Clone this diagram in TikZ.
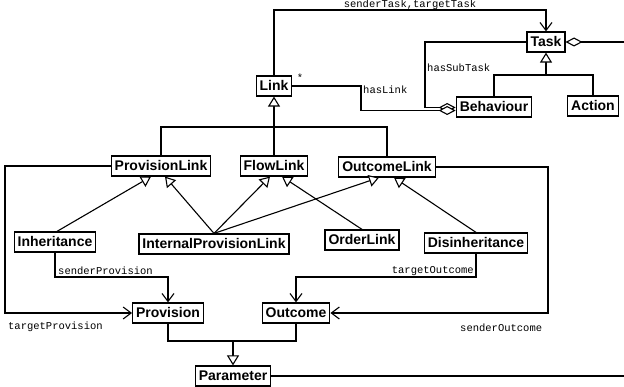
\documentclass[tikz,border=0pt]{standalone}
\usepackage{fontspec}
\usepackage{tikz}
\usetikzlibrary{arrows.meta,calc}
\newfontfamily\clsfont{Liberation Sans}
\newfontfamily\lblfont{Liberation Mono}
\tikzset{
  cls/.style={draw,line width=1.2pt,fill=white,font=\clsfont\bfseries\fontsize{14}{14}\selectfont,
    inner xsep=3.5pt,inner ysep=5pt,text height=10pt,text depth=0pt},
  lbl/.style={inner sep=0pt,font=\lblfont\fontsize{10.5}{10.5}\selectfont},
  con/.style={line width=1.1pt},
  nav/.style={con,-{Straight Barb[length=8pt,width=12pt,line width=1.1pt]}},
  gen/.style={con,-{Triangle[open,length=10pt,width=12pt,fill=white,line width=1.1pt]}},
  agg/.style={con,-{Diamond[open,length=17pt,width=9pt,fill=white,line width=1.1pt]}},
  aggstart/.style={con,{Diamond[open,length=17pt,width=9pt,fill=white,line width=1.1pt]}-}
}
\begin{document}
\begin{tikzpicture}[x=1pt,y=-1pt]
    \useasboundingbox (0,0) rectangle (624,387);
    % bend rows and edges
    \coordinate (topy) at (0,10);
    \coordinate (taskbar) at (546,75);
    \coordinate (linkbar) at (274,127);
    \coordinate (leftx) at (5,0);
    \coordinate (rightx) at (548,0);
    \coordinate (subx) at (425,0);
    \coordinate (hasx) at (361,0);
    \coordinate (provrow) at (0,277);
    \coordinate (parambar) at (233,341);
    \coordinate (edge) at (624,0);

    % classes
    \node[cls] (Task) at (546,42) {Task};
    \node[cls] (Link) at (274,86) {Link};
    \node[cls] (Behaviour) at (494,107) {Behaviour};
    \node[cls] (Action) at (593,106) {Action};
    \node[cls] (ProvisionLink) at (161,166) {ProvisionLink};
    \node[cls] (FlowLink) at (274,166) {FlowLink};
    \node[cls] (OutcomeLink) at (387,167) {OutcomeLink};
    \node[cls] (Inheritance) at (55,242) {Inheritance};
    \node[cls] (InternalProvisionLink) at (214,244) {InternalProvisionLink};
    \node[cls] (OrderLink) at (362,240) {OrderLink};
    \node[cls] (Disinheritance) at (476,243) {Disinheritance};
    \node[cls] (Provision) at (168,313) {Provision};
    \node[cls] (Outcome) at (296,313) {Outcome};
    \node[cls] (Parameter) at (233,376) {Parameter};

    % associations
    \draw[nav] (Link.north) -- (Link.north |- topy) -| (Task.north);
    \draw[agg] (Task.west) -- (Task.west -| subx) |- ([yshift=-0.5pt]Behaviour.west);
    \draw[agg] (Link.east) -- (Link.east -| hasx) |- ([yshift=-3.5pt]Behaviour.west);
    \draw[aggstart] (Task.east) -- (Task.east -| edge);
    \draw[nav] (ProvisionLink.west) -- (ProvisionLink.west -| leftx) |- (Provision.west);
    \draw[nav] (OutcomeLink.east) -- (OutcomeLink.east -| rightx) |- (Outcome.east);
    \draw[nav] (Inheritance.south) -- (Inheritance.south |- provrow) -| (Provision.north);
    \draw[nav] (Disinheritance.south) -- (Disinheritance.south |- provrow) -| (Outcome.north);
    \draw[con] (Parameter.east) -- (Parameter.east -| edge);

    % generalizations
    \draw[con] (Behaviour.north) |- (taskbar) -| (Action.north);
    \draw[gen] (taskbar) -- (Task.south);
    \draw[con] (ProvisionLink.north) |- (linkbar) -| (OutcomeLink.north);
    \draw[gen] (FlowLink.north) -- (Link.south);
    \draw[gen] ([xshift=2pt]Inheritance.north) -- ([xshift=-10pt]ProvisionLink.south);
    \draw[gen] (InternalProvisionLink.north) -- ([xshift=4pt]ProvisionLink.south);
    \draw[gen] (InternalProvisionLink.north) -- ([xshift=-4pt]FlowLink.south);
    \draw[gen] (InternalProvisionLink.north) -- ([xshift=-8pt]OutcomeLink.south);
    \draw[gen] (OrderLink.north) -- ([xshift=8pt]FlowLink.south);
    \draw[gen] (Disinheritance.north) -- ([xshift=7pt]OutcomeLink.south);
    \draw[con] (Provision.south) |- (parambar) -| (Outcome.south);
    \draw[gen] (parambar) -- (Parameter.north);

    % role names
    \node[lbl] (senderTask) at (410,5) {senderTask,targetTask};
    \node[lbl,anchor=west] (hasSubTask) at (427,68) {hasSubTask};
    \node[lbl,anchor=west] (hasLink) at (363,90) {hasLink};
    \node[lbl] (many) at (300,78) {*};
    \node[lbl,anchor=west] (senderProvision) at (58,271) {senderProvision};
    \node[lbl,anchor=west] (targetProvision) at (8,327) {targetProvision};
    \node[lbl,anchor=east] (targetOutcome) at (474,271) {targetOutcome};
    \node[lbl,anchor=west] (senderOutcome) at (460,328) {senderOutcome};
\end{tikzpicture}
\end{document}
